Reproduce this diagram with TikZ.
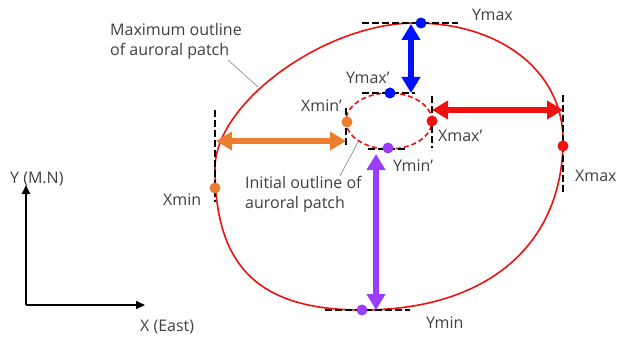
\documentclass[tikz,border=0pt]{standalone}
\usepackage{fontspec}
\setmainfont{Open Sans}
\usetikzlibrary{arrows.meta}
\definecolor{cRed}{HTML}{F01010}
\definecolor{cBlue}{HTML}{0010FF}
\definecolor{cOrange}{HTML}{ED7D31}
\definecolor{cPurple}{HTML}{9B3DFF}
\definecolor{txt}{HTML}{404040}
\begin{document}
\begin{tikzpicture}[x=1pt,y=-1pt,
  lbl/.style={text=txt, font=\fontsize{16}{20}\selectfont, inner sep=0pt, anchor=west, align=left},
  guide/.style={draw=black, line width=2.4pt, dash pattern=on 7pt off 3pt},
  dot/.style={circle, inner sep=0pt, minimum size=11pt},
  dbl/.style={line width=6.5pt, {Triangle[width=18pt,length=16pt]}-{Triangle[width=18pt,length=16pt]}},
  axis/.style={line width=2pt, -{Triangle[width=8pt,length=9pt]}},
  leader/.style={draw=gray, line width=0.6pt}]
\useasboundingbox (0,0) rectangle (617,339);
% maximum outline
\coordinate (L) at (215,168);
\coordinate (T) at (415,23);
\coordinate (R) at (563,140);
\coordinate (B) at (362,310);
\draw[cRed, line width=1.6pt] (L) .. controls (215,103) and (325,23) .. (T)
  .. controls (501,23) and (563,72) .. (R)
  .. controls (563,245) and (487,310) .. (B)
  .. controls (259,310) and (215,267) .. (L) -- cycle;
% initial outline
\draw[cRed, line width=1.6pt, dash pattern=on 5pt off 3pt] (389,121) ellipse [x radius=43pt, y radius=28pt];
% guide lines
\draw[guide] (362,23) -- (458,23);
\draw[guide] (362,93) -- (415,93);
\draw[guide] (432,96) -- (432,148);
\draw[guide] (346,108) -- (346,146);
\draw[guide] (368,149) -- (408,149);
\draw[guide] (563,95) -- (563,192);
\draw[guide] (215,110) -- (215,202);
\draw[guide] (325,310) -- (410,310);
% end points
\coordinate (bT) at (411,24); \coordinate (bB) at (411,93);
\coordinate (rL) at (432,110); \coordinate (rR) at (563,110);
\coordinate (oL) at (216,141); \coordinate (oR) at (346,141);
\coordinate (pT) at (376,154); \coordinate (pB) at (376,310);
\draw[dbl, cBlue] (bT) -- (bB);
\draw[dbl, cRed] (rL) -- (rR);
\draw[dbl, cOrange] (oL) -- (oR);
\draw[dbl, cPurple] (pT) -- (pB);
% dots
\node[dot, fill=cBlue] (ymax) at (421,23) {};
\node[dot, fill=cBlue] (ymaxp) at (390,93) {};
\node[dot, fill=cRed] (xmax) at (563,146) {};
\node[dot, fill=cRed] (xmaxp) at (432,121) {};
\node[dot, fill=cOrange] (xmin) at (215,188) {};
\node[dot, fill=cOrange] (xminp) at (347,122) {};
\node[dot, fill=cPurple] (ymin) at (362,310) {};
\node[dot, fill=cPurple] (yminp) at (388,148) {};
% labels
\node[lbl] (tmax) at (110,41) {Maximum outline\\of auroral patch};
\node[lbl] (tini) at (245,194) {Initial outline of\\auroral patch};
\node[lbl] (lYmax) at (472,15) {Ymax};
\node[lbl] (lYmaxp) at (346,78) {Ymax’};
\node[lbl] (lXminp) at (301,106) {Xmin’};
\node[lbl] (lXmaxp) at (438,136) {Xmax’};
\node[lbl] (lYminp) at (393,166) {Ymin’};
\node[lbl] (lXmax) at (575,176) {Xmax};
\node[lbl] (lXmin) at (163,200) {Xmin};
\node[lbl] (lYmin) at (426,323) {Ymin};
\node[lbl] (lY) at (10,179) {Y (M.N)};
\node[lbl] (lX) at (140,327) {X (East)};
% leaders
\coordinate (m1) at (228,60); \coordinate (m2) at (258,87);
\draw[leader] (m1) -- (m2);
\coordinate (i1) at (358,142); \coordinate (i2) at (340,176);
\draw[leader] (i1) -- (i2);
% axes
\coordinate (O) at (26,305);
\coordinate (Ya) at (26,185);
\coordinate (Xa) at (145,305);
\draw[axis] (O) -- (Ya);
\draw[axis] (O) -- (Xa);
\end{tikzpicture}
\end{document}
